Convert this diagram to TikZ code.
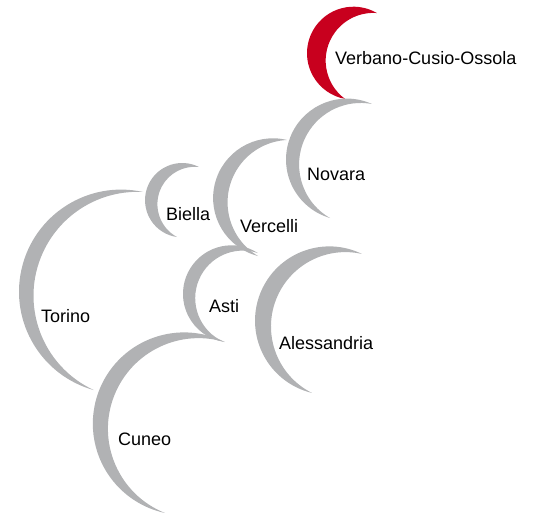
\documentclass[tikz,border=0pt]{standalone}
\usepackage{fontspec}
\setmainfont{Liberation Sans}
\definecolor{crgray}{RGB}{177,178,180}
\definecolor{crred}{RGB}{200,0,30}
% #1 cx, #2 cy (pixels, y down), #3 R, #4 top tip angle, #5 bottom tip angle, #6 thickness, #7 colour
\newcommand\crescent[7]{%
  \pgfmathsetmacro\cresM{(#4+#5)/2}%
  \pgfmathsetmacro\cresH{(#5-#4)/2}%
  \pgfmathsetmacro\cresD{(#3*#3-(#3-#6)*(#3-#6))/(2*(#3-#6-#3*cos(\cresH)))}%
  \pgfmathsetmacro\cresR{#3-#6+\cresD}%
  \pgfmathsetmacro\cresHH{atan2(#3*sin(\cresH),#3*cos(\cresH)+\cresD)}%
  \pgfmathsetmacro\cresA{\cresM+\cresHH}%
  \pgfmathsetmacro\cresB{\cresM-\cresHH}%
  \fill[#7] (#1,515-#2) ++(#4:#3)
    arc[start angle=#4, end angle=#5, radius=#3]
    arc[start angle=\cresA, end angle=\cresB, radius=\cresR] -- cycle;
}
\begin{document}
\begin{tikzpicture}[x=1pt,y=1pt,
  lab/.style={anchor=base west, inner sep=0pt, font=\fontsize{18}{20}\selectfont, text=black}]
\useasboundingbox (0,0) rectangle (537,515);
\crescent{353.5}{53.2}{46.5}{59.7}{259.5}{20}{crred}
\crescent{346.9}{159.5}{60.9}{65.7}{253.9}{14}{crgray}
\crescent{272.9}{198.1}{59.8}{76.4}{255.6}{15}{crgray}
\crescent{182.2}{200.2}{37.2}{63.2}{262}{13}{crgray}
\crescent{121.1}{291.7}{102.1}{77.6}{254.6}{15}{crgray}
\crescent{231.6}{293.9}{48.6}{57.2}{261}{13}{crgray}
\crescent{184.1}{423.7}{91.3}{63.4}{257.9}{16}{crgray}
\crescent{329.3}{320.7}{74.3}{63.9}{256.5}{17}{crgray}
\node[lab] (vco) at (335,515-65) {Verbano-Cusio-Ossola};
\node[lab] (novara) at (307,515-180) {Novara};
\node[lab] (vercelli) at (240,515-232) {Vercelli};
\node[lab] (biella) at (166,515-220) {Biella};
\node[lab] (torino) at (41,515-322) {Torino};
\node[lab] (asti) at (209,515-312) {Asti};
\node[lab] (alessandria) at (279,515-349) {Alessandria};
\node[lab] (cuneo) at (118,515-445) {Cuneo};
\end{tikzpicture}
\end{document}
